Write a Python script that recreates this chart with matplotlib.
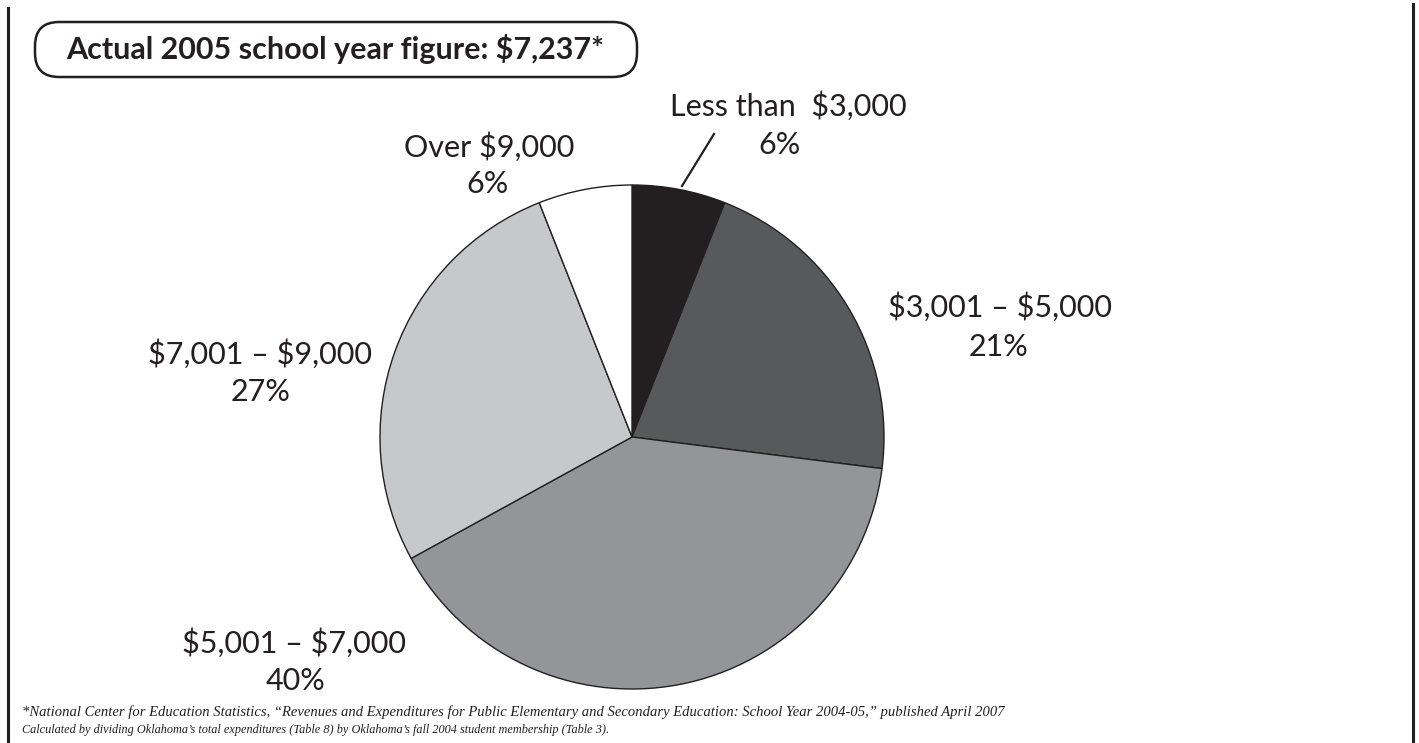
import matplotlib
matplotlib.use("Agg")
import matplotlib.pyplot as plt
from matplotlib.patches import FancyBboxPatch

# Spending per student, share of Oklahoma districts
categories = ["Less than  $3,000", "$3,001 \u2013 $5,000", "$5,001 \u2013 $7,000",
              "$7,001 \u2013 $9,000", "Over $9,000"]
shares = [6, 21, 40, 27, 6]
colors = ["#231f20", "#58595b", "#939598", "#c7c8ca", "#ffffff"]

title = "Actual 2005 school year figure: $7,237*"
note1 = ("*National Center for Education Statistics, \u201cRevenues and Expenditures for Public "
         "Elementary and Secondary Education: School Year 2004-05,\u201d published April 2007")
note2 = ("Calculated by dividing Oklahoma\u2019s total expenditures (Table 8) by Oklahoma\u2019s "
         "fall 2004 student membership (Table 3).")

W, H = 1419, 743
fig = plt.figure(figsize=(W / 100, H / 100), dpi=100)
ax = fig.add_axes([0, 0, 1, 1])

def Y(y):
    # work in pixel coordinates measured from the top
    return H - y

ax.pie(shares, colors=colors, startangle=90, counterclock=False,
       center=(632, Y(437)), radius=252, frame=True,
       wedgeprops=dict(edgecolor="#231f20", linewidth=1.0))
ax.set_xlim(0, W)
ax.set_ylim(0, H)
ax.set_aspect("equal")
ax.axis("off")

lab_font = dict(family="Lato", fontsize=22, color="#231f20", ha="center", va="center",
                parse_math=False)
label_pos = [((788, 106), (779, 145)), ((1000, 307), (998, 347)), ((294, 643), (296, 681)),
             ((260, 354), (261, 392)), ((489, 147), (487, 184))]
for name, pct, (p1, p2) in zip(categories, shares, label_pos):
    ax.text(p1[0], Y(p1[1]), name, **lab_font)
    ax.text(p2[0], Y(p2[1]), f"{pct}%", **lab_font)

# leader line for the small dark slice
ax.plot([682, 714], [Y(186), Y(134)], color="#231f20", lw=1.6)

# rounded title box
box = FancyBboxPatch((35, Y(77)), 602, 55, boxstyle="round,pad=0,rounding_size=24",
                     fc="white", ec="#231f20", lw=1.8)
ax.add_patch(box)
ax.text(66, Y(49), title, family="Lato", fontweight="bold", fontsize=22,
        color="#231f20", ha="left", va="center", parse_math=False)

# side rules
ax.plot([8, 8], [Y(8), 0], color="#231f20", lw=2.2)
ax.plot([1413, 1413], [Y(4), 0], color="#231f20", lw=2.2)

ax.text(22, Y(712), note1, family="Liberation Serif", style="italic", fontsize=10.5,
        color="#231f20", ha="left", va="center")
ax.text(22, Y(730), note2, family="Liberation Serif", style="italic", fontsize=8.8,
        color="#231f20", ha="left", va="center")

fig.savefig("out.png", dpi=100)
